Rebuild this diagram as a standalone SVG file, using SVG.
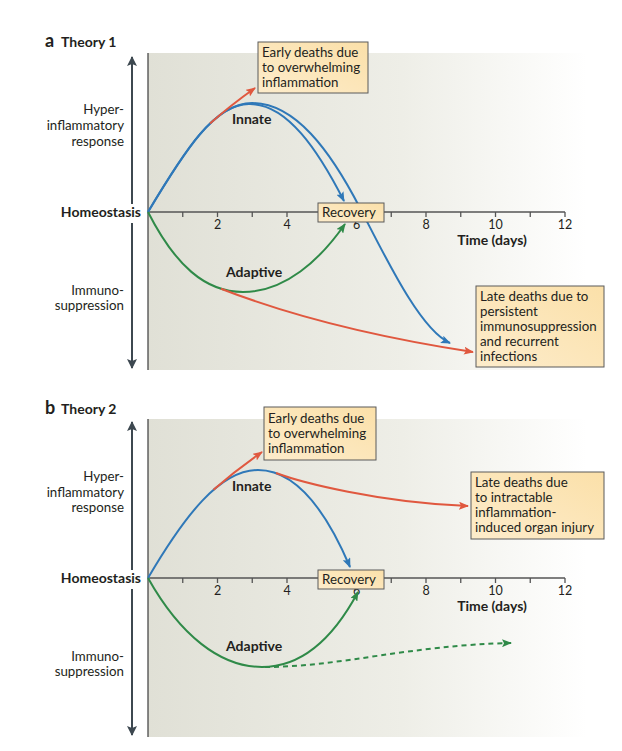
<svg xmlns="http://www.w3.org/2000/svg" width="622" height="751" viewBox="0 0 622 751">
<style>
text{font-family:Lato,"Noto Sans",sans-serif;fill:#231f20;font-size:13.3px}
.b{font-weight:bold;font-size:14px}
.r{text-anchor:end}
.m{text-anchor:middle}
.num{font-size:12.5px;text-anchor:middle}
.box{fill:url(#boxg);stroke:#5b5b5b;stroke-width:1}
.ax{stroke:#555;stroke-width:1.3;fill:none}
.va{stroke:#3d4850;stroke-width:2;fill:none}
.blue{stroke:#2f78b8;stroke-width:2;fill:none}
.red{stroke:#e0583f;stroke-width:2;fill:none}
.green{stroke:#2f8a48;stroke-width:2;fill:none}
</style>
<defs>
<linearGradient id="bg" x1="0" y1="0" x2="1" y2="0">
<stop offset="0" stop-color="#e0e0d6"/>
<stop offset="0.55" stop-color="#eeeee7"/>
<stop offset="0.95" stop-color="#ffffff"/>
</linearGradient>
<linearGradient id="boxg" x1="0" y1="1" x2="1" y2="0">
<stop offset="0" stop-color="#fdeccb"/>
<stop offset="1" stop-color="#fbe0a9"/>
</linearGradient>
<marker id="ab" markerUnits="userSpaceOnUse" markerWidth="10" markerHeight="8" refX="9" refY="4" orient="auto"><path d="M0,0 L10,4 L0,8 L2,4 z" fill="#2f78b8"/></marker>
<marker id="ar" markerUnits="userSpaceOnUse" markerWidth="10" markerHeight="8" refX="9" refY="4" orient="auto"><path d="M0,0 L10,4 L0,8 L2,4 z" fill="#e0583f"/></marker>
<marker id="ag" markerUnits="userSpaceOnUse" markerWidth="10" markerHeight="8" refX="9" refY="4" orient="auto"><path d="M0,0 L10,4 L0,8 L2,4 z" fill="#2f8a48"/></marker>
<marker id="av" markerUnits="userSpaceOnUse" markerWidth="10" markerHeight="10" refX="9" refY="5" orient="auto"><path d="M0,0 L10,5 L0,10 L2,5 z" fill="#3d4850"/></marker>
</defs>

<!-- Panel a -->
<g id="panel-a">
<rect x="148" y="53" width="462" height="317" fill="url(#bg)"/>
<line x1="148" y1="53" x2="148" y2="370" stroke="#4a4a4a" stroke-width="1.3"/>
<text x="45" y="47" class="b" style="font-size:18px">a</text>
<text x="61" y="47" class="b">Theory 1</text>
<line class="va" x1="132" y1="204" x2="132" y2="57" marker-end="url(#av)"/>
<line class="va" x1="132" y1="223" x2="132" y2="368" marker-end="url(#av)"/>
<text x="141" y="217" class="b r">Homeostasis</text>
<text class="r" x="124" y="114">Hyper-</text>
<text class="r" x="124" y="130">inflammatory</text>
<text class="r" x="124" y="146">response</text>
<text class="r" x="124" y="295">Immuno-</text>
<text class="r" x="124" y="310">suppression</text>
<g id="axis-a">
<path class="ax" d="M148,212 H565 M182.75,212 v5 M217.5,212 v5 M252.25,212 v5 M287,212 v5 M321.75,212 v5 M356.5,212 v5 M391.25,212 v5 M426,212 v5 M460.75,212 v5 M495.5,212 v5 M530.25,212 v5 M565,212 v5"/>
<text class="num" x="217.5" y="229">2</text>
<text class="num" x="287" y="229">4</text>
<text class="num" x="356.5" y="229">6</text>
<text class="num" x="426" y="229">8</text>
<text class="num" x="495.5" y="229">10</text>
<text class="num" x="565" y="229">12</text>
<text class="b m" x="492" y="245">Time (days)</text>
</g>
</g>

<g id="connectors-a">
<path class="blue" d="M148,212 C185,150 215,103 252,103 C295,103 330,150 360,208 C385,256 420,330 450,343" marker-end="url(#ab)"/>
<path class="blue" d="M148,212 C185,150 215,103 250,104 C287,104 318,150 344,201" marker-end="url(#ab)"/>
<path class="red" d="M210,123.5 Q231,105 255,88" marker-end="url(#ar)"/>
<path class="green" d="M148,212 C175,265 205,292 243,292 C285,292 320,260 345,224" marker-end="url(#ag)"/>
<path class="red" d="M221,288.7 C250,300 330,330 473,352" marker-end="url(#ar)"/>
</g>

<g id="label-innate-a"><text class="b" x="232" y="124">Innate</text></g>
<g id="label-adaptive-a"><text class="b" x="226" y="277">Adaptive</text></g>

<g id="early-deaths-a">
<rect class="box" x="258" y="42" width="110" height="51"/>
<text x="262" y="57">Early deaths due</text>
<text x="262" y="72">to overwhelming</text>
<text x="262" y="87">inflammation</text>
</g>
<g id="recovery-a">
<rect class="box" x="318" y="203" width="66" height="19"/>
<text x="322" y="217">Recovery</text>
</g>
<g id="late-deaths-a">
<rect class="box" x="476" y="286" width="128" height="81"/>
<text x="480" y="300.5">Late deaths due to</text>
<text x="480" y="315.5">persistent</text>
<text x="480" y="330.5">immunosuppression</text>
<text x="480" y="345.5">and recurrent</text>
<text x="480" y="360.5">infections</text>
</g>

<!-- Panel b -->
<g id="panel-b">
<rect x="148" y="419" width="462" height="318" fill="url(#bg)"/>
<line x1="148" y1="419" x2="148" y2="737" stroke="#4a4a4a" stroke-width="1.3"/>
<text x="45" y="414" class="b" style="font-size:18px">b</text>
<text x="61" y="414" class="b">Theory 2</text>
<line class="va" x1="132" y1="570" x2="132" y2="422" marker-end="url(#av)"/>
<line class="va" x1="132" y1="589" x2="132" y2="735" marker-end="url(#av)"/>
<text x="141" y="583" class="b r">Homeostasis</text>
<text class="r" x="124" y="481">Hyper-</text>
<text class="r" x="124" y="497">inflammatory</text>
<text class="r" x="124" y="512">response</text>
<text class="r" x="124" y="661">Immuno-</text>
<text class="r" x="124" y="676">suppression</text>
<g id="axis-b">
<path class="ax" d="M148,578 H565 M182.75,578 v5 M217.5,578 v5 M252.25,578 v5 M287,578 v5 M321.75,578 v5 M356.5,578 v5 M391.25,578 v5 M426,578 v5 M460.75,578 v5 M495.5,578 v5 M530.25,578 v5 M565,578 v5"/>
<text class="num" x="217.5" y="595">2</text>
<text class="num" x="287" y="595">4</text>
<text class="num" x="356.5" y="595">6</text>
<text class="num" x="426" y="595">8</text>
<text class="num" x="495.5" y="595">10</text>
<text class="num" x="565" y="595">12</text>
<text class="b m" x="492" y="611">Time (days)</text>
</g>
</g>

<g id="connectors-b">
<path class="blue" d="M148,578 C185,515 220,470 258,470 C300,470 330,520 350,567" marker-end="url(#ab)"/>
<path class="red" d="M213.5,489.8 Q236,470 262,452" marker-end="url(#ar)"/>
<path class="red" d="M276,473 C300,482 380,503 468,506" marker-end="url(#ar)"/>
<path class="green" d="M148,578 C180,635 220,667 262,667 C305,667 335,635 358,592" marker-end="url(#ag)"/>
<path class="green" d="M265,667 C340,667 410,645 511,643" stroke-dasharray="5 4" marker-end="url(#ag)"/>
</g>

<g id="label-innate-b"><text class="b" x="232" y="491">Innate</text></g>
<g id="label-adaptive-b"><text class="b" x="226" y="651">Adaptive</text></g>

<g id="early-deaths-b">
<rect class="box" x="264" y="407" width="112" height="53"/>
<text x="268" y="423">Early deaths due</text>
<text x="268" y="438">to overwhelming</text>
<text x="268" y="453">inflammation</text>
</g>
<g id="recovery-b">
<rect class="box" x="318" y="570" width="66" height="19"/>
<text x="322" y="584">Recovery</text>
</g>
<g id="late-deaths-b">
<rect class="box" x="471" y="472" width="133" height="67"/>
<text x="475" y="487">Late deaths due</text>
<text x="475" y="502">to intractable</text>
<text x="475" y="517">inflammation-</text>
<text x="475" y="532">induced organ injury</text>
</g>
</svg>
